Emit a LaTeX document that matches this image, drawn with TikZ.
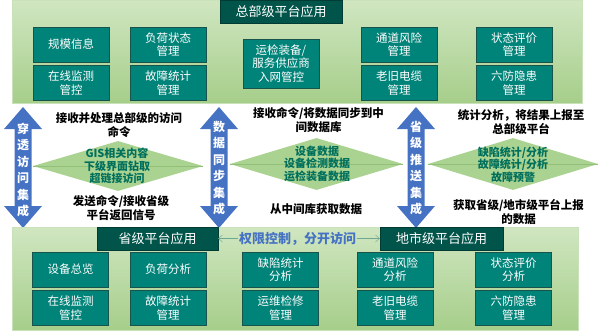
\documentclass[tikz,border=0pt]{standalone}
\usepackage{fontspec}
\setmainfont{Noto Sans CJK SC}
\usetikzlibrary{arrows.meta,positioning,shapes.geometric}
\definecolor{pnlTop}{RGB}{208,230,193}
\definecolor{pnlBot}{RGB}{166,206,138}
\definecolor{boxTeal}{RGB}{0,131,120}
\definecolor{boxEdge}{RGB}{24,84,76}
\definecolor{ttlTeal}{RGB}{0,84,74}
\definecolor{arrBlue}{RGB}{70,114,196}
\definecolor{diaGreen}{RGB}{170,210,145}
\definecolor{diaLine}{RGB}{146,192,120}
\definecolor{diaText}{RGB}{0,112,92}
\definecolor{linkGreen}{RGB}{110,168,146}

\begin{document}
\begin{tikzpicture}[x=1pt,y=-1pt,
    pnl/.style={top color=pnlTop,bottom color=pnlBot,draw=pnlBot!60!white,line width=0.4pt},
    box/.style={draw=boxEdge,fill=boxTeal,text=white,align=center,inner sep=0pt,
                minimum width=76pt,minimum height=35pt,font=\fontsize{11.5}{13.5}\selectfont},
    ttl/.style={draw=ttlTeal!70!black,fill=ttlTeal,text=white,inner sep=0pt,
                minimum height=23pt,font=\fontsize{13}{15}\selectfont},
    lbl/.style={align=center,inner sep=1pt,font=\bfseries\fontsize{11.5}{14}\selectfont},
    dia/.style={diamond,fill=diaGreen,inner sep=0pt},
    dtxt/.style={align=center,inner sep=0pt,text=diaText,font=\bfseries\fontsize{11}{12.5}\selectfont},
    vtxt/.style={align=center,inner sep=0pt,text=white,font=\bfseries\fontsize{12}{16.5}\selectfont},
    link/.style={-{Straight Barb[length=4pt,width=7pt]},draw=linkGreen,thin}]
  \useasboundingbox (0,0) rectangle (600,330);

  % headquarters platform
  \path[pnl] (12,0) rectangle (582,103);
  \node[ttl,minimum width=122pt] (zb) at (281,11.5) {总部级平台应用};
  \node[box] (z1) at (71,44.5) {规模信息};
  \node[box,below=3pt of z1] (z2) {在线监测\\管控};
  \node[box] (z3) at (168,44.5) {负荷状态\\管理};
  \node[box,below=3pt of z3] (z4) {故障统计\\管理};
  \node[box,minimum height=49pt] (z5) at (281,63.5) {运检装备/\\服务供应商\\入网管控};
  \node[box] (z6) at (399,44.5) {通道风险\\管理};
  \node[box,below=3pt of z6] (z7) {老旧电缆\\管理};
  \node[box] (z8) at (514,44.5) {状态评价\\管理};
  \node[box,below=3pt of z8] (z9) {六防隐患\\管理};

  % data exchange in between
  \node[dia,minimum width=170pt,minimum height=50pt] (d1) at (118,166) {};
  \node[dia,minimum width=173pt,minimum height=52pt] (d2) at (316.5,164) {};
  \node[dia,minimum width=170pt,minimum height=52pt] (d3) at (513,164) {};
  \draw[diaLine,thick] (d1.west) -- (d1.east);
  \draw[diaLine,thick] (d2.west) -- (d2.east);
  \draw[diaLine,thick] (d3.west) -- (d3.east);
  \node[dtxt] (t1) at (117,166) {GIS相关内容\\下级界面钻取\\超链接访问};
  \node[dtxt] (t2) at (317,163.5) {设备数据\\设备检测数据\\运检装备数据};
  \node[dtxt] (t3) at (513,164.5) {缺陷统计/分析\\故障统计/分析\\故障预警};

  \foreach \x in {23,219,416}
    \fill[arrBlue] (\x,107) -- ++(19,22) -- ++(-10.5,0) -- ++(0,77) -- ++(10.5,0)
      -- (\x,228) -- ++(-19,-22) -- ++(10.5,0) -- ++(0,-77) -- ++(-10.5,0) -- cycle;
  \node[vtxt] (a1) at (23,170) {穿\\透\\访\\问\\集\\成};
  \node[vtxt] (a2) at (219,168) {数\\据\\同\\步\\集\\成};
  \node[vtxt] (a3) at (416,168) {省\\级\\推\\送\\集\\成};

  \node[lbl] (m1) at (119,125) {接收并处理总部级的访问\\命令};
  \node[lbl] (m2) at (121,208.5) {发送命令/接收省级\\平台返回信号};
  \node[lbl] (m3) at (318.5,120) {接收命令/将数据同步到中\\间数据库};
  \node[lbl] (m4) at (316,209) {从中间库获取数据};
  \node[lbl] (m5) at (521,122) {统计分析，将结果上报至\\总部级平台};
  \node[lbl] (m6) at (518.5,212) {获取省级/地市级平台上报\\的数据};

  % provincial and city platforms
  \path[pnl] (12,227) rectangle (578,330);
  \node[ttl,minimum width=121pt] (sj) at (157.5,238.5) {省级平台应用};
  \node[ttl,minimum width=123pt] (ds) at (441.5,238.5) {地市级平台应用};
  \node[inner sep=1pt,text=arrBlue,font=\bfseries\fontsize{13}{15}\selectfont] (qx) at (297.5,238.5) {权限控制，分开访问};
  \draw[link] (qx.west) -- (sj.east);
  \draw[link] (qx.east) -- (ds.west);

  \node[box] (b1) at (70.5,269.5) {设备总览};
  \node[box,below=3pt of b1] (b2) {在线监测\\管控};
  \node[box] (b3) at (168,269.5) {负荷分析};
  \node[box,below=3pt of b3] (b4) {故障统计\\管理};
  \node[box] (b5) at (280.5,269.5) {缺陷统计\\分析};
  \node[box,below=3pt of b5] (b6) {运维检修\\管理};
  \node[box] (b7) at (395,269.5) {通道风险\\分析};
  \node[box,below=3pt of b7] (b8) {老旧电缆\\管理};
  \node[box] (b9) at (513.5,269.5) {状态评价\\分析};
  \node[box,below=3pt of b9] (b10) {六防隐患\\管理};
\end{tikzpicture}
\end{document}
